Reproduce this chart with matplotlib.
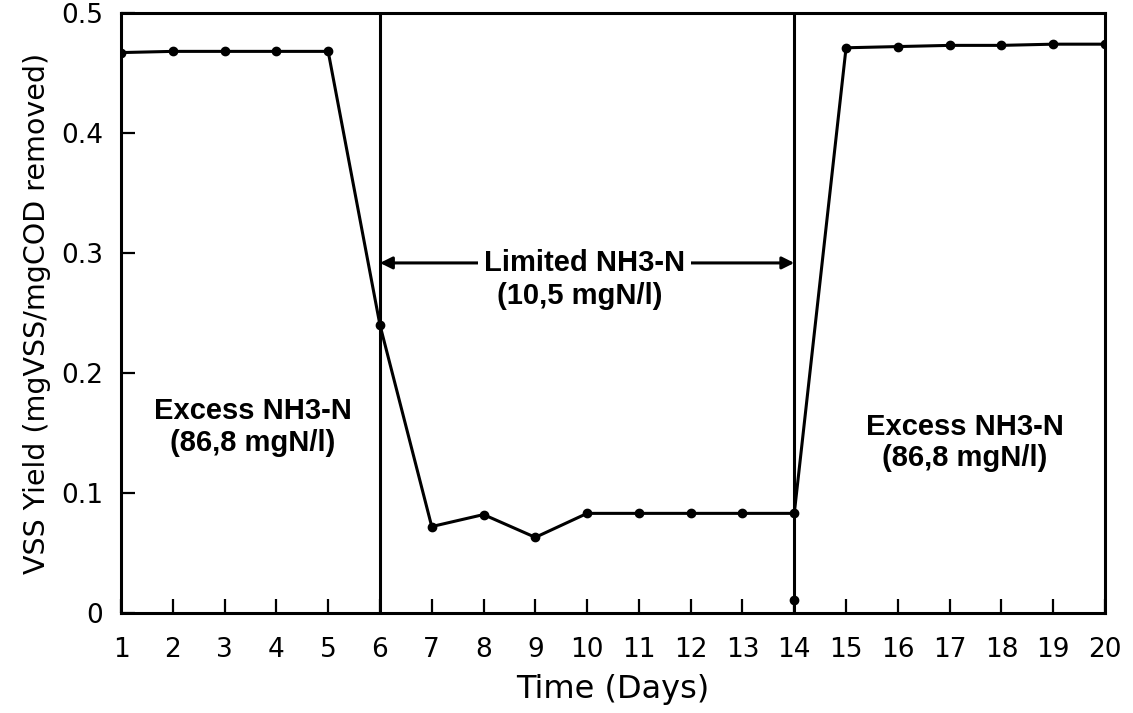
import matplotlib
matplotlib.use("Agg")
import matplotlib.pyplot as plt

# ---- data ----
days  = [1, 2, 3, 4, 5, 6, 7, 8, 9, 10, 11, 12, 13, 14, 15, 16, 17, 18, 19, 20]
yield_vss = [0.467, 0.468, 0.468, 0.468, 0.468, 0.240, 0.072, 0.082, 0.063, 0.083,
             0.083, 0.083, 0.083, 0.083, 0.471, 0.472, 0.473, 0.473, 0.474, 0.474]
extra_day = [14]
extra_val = [0.011]
phase_changes = [6, 14]
x_ticks = list(range(1, 21))
y_ticks = [0, 0.1, 0.2, 0.3, 0.4, 0.5]
y_ticklabels = ["0", "0.1", "0.2", "0.3", "0.4", "0.5"]

plt.rcParams["font.family"] = ["DejaVu Sans"]

fig = plt.figure(figsize=(11.33, 7.13), dpi=100)
ax = fig.add_axes([0.1068, 0.1403, 0.8685, 0.8415])

ax.plot(days, yield_vss, color="black", lw=2.2, marker="o", ms=6)
ax.plot(extra_day, extra_val, "o", color="black", ms=6)

for d in phase_changes:
    ax.axvline(d, color="black", lw=2.2)

ax.set_xlim(1, 20)
ax.set_ylim(0, 0.5)
ax.set_xticks(x_ticks)
ax.set_yticks(y_ticks)
ax.set_yticklabels(y_ticklabels)
ax.tick_params(direction="in", length=10, width=1.6, labelsize=19)
ax.tick_params(axis="x", pad=17)
ax.tick_params(axis="y", pad=13)
for s in ax.spines.values():
    s.set_linewidth(2.2)

ax.set_xlabel("Time (Days)", fontsize=23, labelpad=8)
ax.set_ylabel("VSS Yield (mgVSS/mgCOD removed)", fontsize=20.5, labelpad=7)

# annotations
bold = dict(fontsize=21, fontweight="bold", ha="center", va="center",
            family=["Liberation Sans", "DejaVu Sans"])
ax.annotate("", xy=(6, 0.2917), xytext=(14, 0.2917),
            arrowprops=dict(arrowstyle="<|-|>", lw=2.2, color="black",
                            mutation_scale=18, shrinkA=0, shrinkB=0))
ax.text(9.95, 0.2917, "Limited NH3-N", bbox=dict(fc="white", ec="none", pad=4), **bold)
ax.text(9.85, 0.264, "(10,5 mgN/l)", **bold)
ax.text(3.55, 0.168, "Excess NH3-N", **bold)
ax.text(3.55, 0.142, "(86,8 mgN/l)", **bold)
ax.text(17.3, 0.155, "Excess NH3-N", **bold)
ax.text(17.3, 0.129, "(86,8 mgN/l)", **bold)

fig.savefig("out.png", dpi=100)
